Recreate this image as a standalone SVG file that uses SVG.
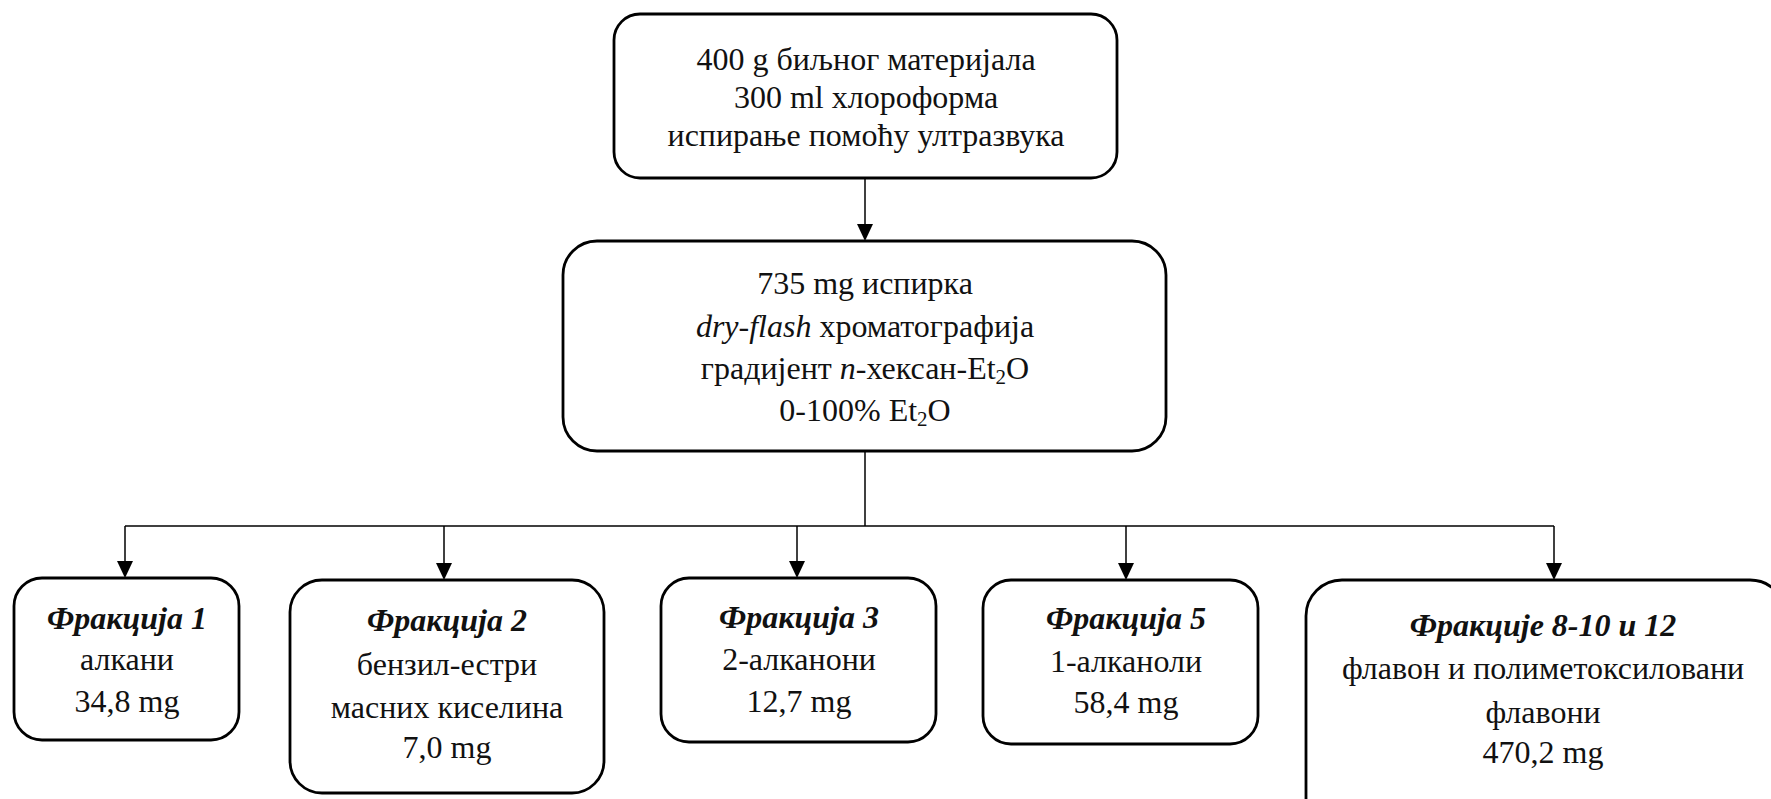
<svg xmlns="http://www.w3.org/2000/svg" width="1771" height="799" viewBox="0 0 1771 799">
<defs>
<style>
.box{fill:#fff;stroke:#000;stroke-width:2.8}
.t{font-family:"Liberation Serif","Times New Roman",serif;font-size:32px;fill:#111;text-anchor:middle}
.bi{font-weight:bold;font-style:italic}
.it{font-style:italic}
.c{fill:none;stroke:#000;stroke-width:1.5}
</style>
</defs>
<rect width="1771" height="799" fill="#fff"/>
<g id="connectors">
<line class="c" x1="865" y1="178" x2="865" y2="226"/>
<path d="M857,224 L873,224 L865,241 Z" fill="#000"/>
<polyline class="c" points="865,451 865,526"/>
<line class="c" x1="125" y1="526" x2="1554" y2="526"/>
<line class="c" x1="125" y1="526" x2="125" y2="562"/>
<path d="M117,561 L133,561 L125,578 Z" fill="#000"/>
<line class="c" x1="444" y1="526" x2="444" y2="564"/>
<path d="M436,563 L452,563 L444,580 Z" fill="#000"/>
<line class="c" x1="797" y1="526" x2="797" y2="562"/>
<path d="M789,561 L805,561 L797,578 Z" fill="#000"/>
<line class="c" x1="1126" y1="526" x2="1126" y2="564"/>
<path d="M1118,563 L1134,563 L1126,580 Z" fill="#000"/>
<line class="c" x1="1554" y1="526" x2="1554" y2="564"/>
<path d="M1546,563 L1562,563 L1554,580 Z" fill="#000"/>
</g>
<g id="n-top">
<rect class="box" x="614" y="14" width="503" height="164" rx="26"/>
<text class="t" x="866" y="70">400 g биљног материјала</text>
<text class="t" x="866" y="108">300 ml хлороформа</text>
<text class="t" x="866" y="146">испирање помоћу ултразвука</text>
</g>
<g id="n-extract">
<rect class="box" x="563" y="241" width="603" height="210" rx="34"/>
<text class="t" x="865" y="294">735 mg испирка</text>
<text class="t" x="865" y="337"><tspan class="it">dry-flash</tspan> хроматографија</text>
<text class="t" x="865" y="379">градијент <tspan class="it">n</tspan>-хексан-Et<tspan font-size="21" dy="5">2</tspan><tspan dy="-5">O</tspan></text>
<text class="t" x="865" y="421">0-100% Et<tspan font-size="21" dy="5">2</tspan><tspan dy="-5">O</tspan></text>
</g>
<g id="n-f1">
<rect class="box" x="14" y="578" width="225" height="162" rx="28"/>
<text class="t bi" x="127" y="629">Фракција 1</text>
<text class="t" x="127" y="670">алкани</text>
<text class="t" x="127" y="712">34,8 mg</text>
</g>
<g id="n-f2">
<rect class="box" x="290" y="580" width="314" height="213" rx="32"/>
<text class="t bi" x="447" y="631">Фракција 2</text>
<text class="t" x="447" y="675">бензил-естри</text>
<text class="t" x="447" y="718">масних киселина</text>
<text class="t" x="447" y="758">7,0 mg</text>
</g>
<g id="n-f3">
<rect class="box" x="661" y="578" width="275" height="164" rx="28"/>
<text class="t bi" x="799" y="628">Фракција 3</text>
<text class="t" x="799" y="670">2-алканони</text>
<text class="t" x="799" y="712">12,7 mg</text>
</g>
<g id="n-f5">
<rect class="box" x="983" y="580" width="275" height="164" rx="28"/>
<text class="t bi" x="1126" y="629">Фракција 5</text>
<text class="t" x="1126" y="672">1-алканоли</text>
<text class="t" x="1126" y="713">58,4 mg</text>
</g>
<g id="n-f8">
<rect class="box" x="1306" y="580" width="480" height="260" rx="36"/>
<text class="t bi" x="1543" y="636">Фракције 8-10 и 12</text>
<text class="t" x="1543" y="679">флавон и полиметоксиловани</text>
<text class="t" x="1543" y="723">флавони</text>
<text class="t" x="1543" y="763">470,2 mg</text>
</g>
</svg>
